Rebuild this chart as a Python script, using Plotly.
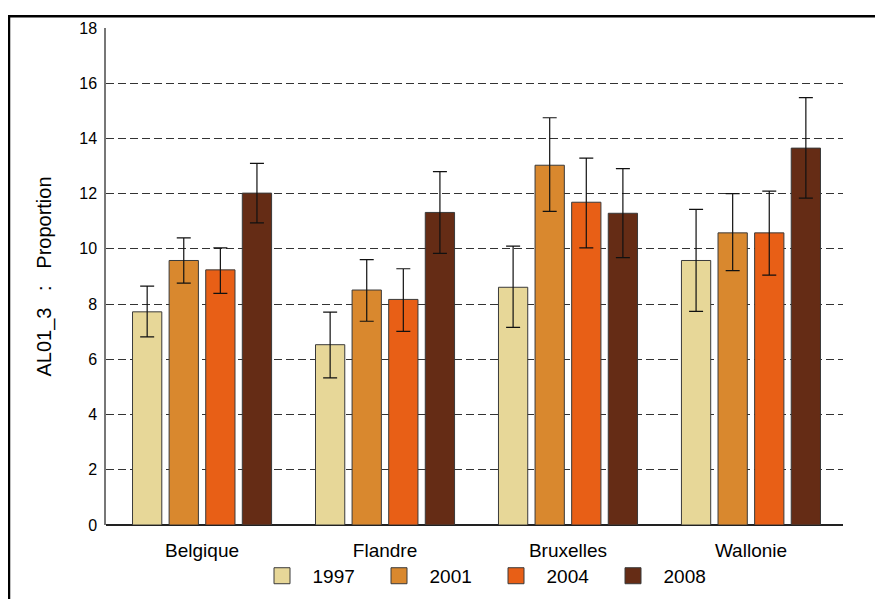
import plotly.graph_objects as go

regions = ["Belgique", "Flandre", "Bruxelles", "Wallonie"]
years = ["1997", "2001", "2004", "2008"]

values = {
    "1997": [7.72, 6.53, 8.61, 9.58],
    "2001": [9.58, 8.51, 13.03, 10.58],
    "2004": [9.24, 8.17, 11.69, 10.58],
    "2008": [12.02, 11.32, 11.29, 13.65],
}
err_plus = {
    "1997": [0.93, 1.18, 1.49, 1.85],
    "2001": [0.82, 1.10, 1.72, 1.42],
    "2004": [0.80, 1.11, 1.60, 1.51],
    "2008": [1.08, 1.48, 1.62, 1.83],
}
err_minus = {
    "1997": [0.91, 1.20, 1.45, 1.84],
    "2001": [0.82, 1.13, 1.67, 1.37],
    "2004": [0.85, 1.16, 1.65, 1.53],
    "2008": [1.08, 1.48, 1.61, 1.81],
}
colors = {"1997": "#E7D798", "2001": "#D9882E", "2004": "#E85F16", "2008": "#652C15"}

y_ticks = [0, 2, 4, 6, 8, 10, 12, 14, 16, 18]

fig = go.Figure()
for yr in years:
    fig.add_trace(go.Bar(
        x=regions, y=values[yr], name=yr, showlegend=False,
        marker=dict(color=colors[yr], line=dict(color="#3a3a3a", width=1)),
        error_y=dict(type="data", symmetric=False, array=err_plus[yr],
                     arrayminus=err_minus[yr], color="#111111",
                     thickness=1.2, width=7),
    ))
# legend proxies with larger square symbols
for yr in years:
    fig.add_trace(go.Scatter(
        x=[None], y=[None], mode="markers", name="\u00a0\u00a0" + yr,
        marker=dict(symbol="square", size=16, color=colors[yr],
                    line=dict(color="#3a3a3a", width=1)),
    ))

OFF = 8  # page offset of the figure in the browser
L, R, T, B = 106 - OFF, 40 + OFF, 20 - OFF, 74 + OFF
W, H = 883, 599
pw, ph = W - L - R, H - T - B

fig.update_layout(
    width=W, height=H,
    margin=dict(l=L, r=R, t=T, b=B, pad=0),
    paper_bgcolor="white", plot_bgcolor="white",
    barmode="group", bargap=0.2, bargroupgap=0.2,
    font=dict(family="Liberation Sans, Arial, sans-serif", color="black"),
    showlegend=True,
    legend=dict(orientation="h", x=(262 - OFF - L) / pw, xanchor="left",
                y=(H - B - (596 - OFF)) / ph, yanchor="bottom",
                font=dict(size=19), itemsizing="trace",
                entrywidth=72, entrywidthmode="pixels",
                bgcolor="rgba(0,0,0,0)", borderwidth=0),
    xaxis=dict(range=[-0.525, 3.503], showgrid=False, showline=False,
               ticks="", tickfont=dict(size=19), ticklabelstandoff=12,
               zeroline=False),
    yaxis=dict(range=[0, 18], tickvals=y_ticks, showgrid=True,
               gridcolor="#333333", griddash="8px,4px", gridwidth=1,
               showline=True, linecolor="#777777", linewidth=1.5,
               ticks="", tickfont=dict(size=16), ticklabelstandoff=4,
               zeroline=True, zerolinecolor="#222222", zerolinewidth=1.5,
               title=dict(text="AL01_3\u00a0\u00a0\u00a0:\u00a0\u00a0\u00a0Proportion",
                          font=dict(size=20), standoff=22)),
    shapes=[dict(type="rect", xref="paper", yref="paper",
                 x0=(1 - L) / pw, x1=(W + 20 - L) / pw,
                 y0=(H - B - (H + 20)) / ph, y1=(H - B - 0) / ph,
                 line=dict(color="black", width=2.5), fillcolor="rgba(0,0,0,0)",
                 layer="below")],
)

fig.write_html("out.html")
